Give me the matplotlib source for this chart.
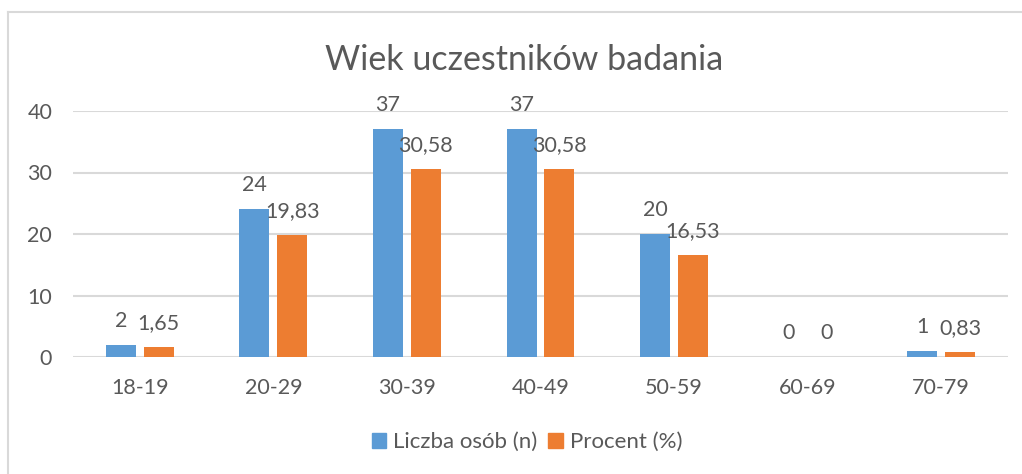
import matplotlib.pyplot as plt
from matplotlib.lines import Line2D
from matplotlib.patches import Patch
import numpy as np

plt.rcParams['font.family'] = ['Lato', 'DejaVu Sans']

categories = ['18-19', '20-29', '30-39', '40-49', '50-59', '60-69', '70-79']
liczba = [2, 24, 37, 37, 20, 0, 1]
procent = [1.65, 19.83, 30.58, 30.58, 16.53, 0, 0.83]
liczba_labels = ['2', '24', '37', '37', '20', '0', '1']
procent_labels = ['1,65', '19,83', '30,58', '30,58', '16,53', '0', '0,83']

blue = '#5B9BD5'
orange = '#ED7D31'
text_col = '#595959'
grid_col = '#D9D9D9'

fig = plt.figure(figsize=(10.22, 4.74), dpi=100)
ax = fig.add_axes([73 / 1022, 1 - 357 / 474, (1008 - 73) / 1022, (357 - 111) / 474])

x = np.arange(len(categories))
w = 0.2245
off = 0.142
ax.bar(x - off, liczba, w, color=blue, zorder=3)
ax.bar(x + off, procent, w, color=orange, zorder=3)

# data labels above bars
for xi, v, s in zip(x, liczba, liczba_labels):
    ax.annotate(s, (xi - off, v), xytext=(0, 13), textcoords='offset points',
                ha='center', va='baseline', fontsize=15.5, color=text_col)
for xi, v, s in zip(x, procent, procent_labels):
    ax.annotate(s, (xi + off, v), xytext=(0, 13), textcoords='offset points',
                ha='center', va='baseline', fontsize=15.5, color=text_col)

ax.set_xlim(-0.5, len(categories) - 0.5)
ax.set_ylim(0, 40)
ax.set_yticks([0, 10, 20, 30, 40])
ax.set_xticks(x)
ax.set_xticklabels(categories)
ax.tick_params(axis='both', length=0, labelsize=15.5, labelcolor=text_col)
ax.tick_params(axis='y', pad=15)
ax.tick_params(axis='x', pad=15)
ax.yaxis.grid(True, color=grid_col, linewidth=1.5, zorder=0)
for sp in ax.spines.values():
    sp.set_visible(False)
ax.set_facecolor('none')

fig.text(524 / 1022, 1 - 70 / 474, 'Wiek uczestników badania', ha='center',
         va='baseline', fontsize=24.5, color=text_col)

handles = [Patch(color=blue, label='Liczba osób (n)'),
           Patch(color=orange, label='Procent (%)')]
fig.legend(handles=handles, loc='center', bbox_to_anchor=(527 / 1022, 1 - 442 / 474),
           ncol=2, frameon=False, fontsize=16, labelcolor=text_col,
           handlelength=0.65, handleheight=0.65, handletextpad=0.3,
           columnspacing=0.5, borderpad=0)

# chart border (cropped Excel frame)
fig.add_artist(Line2D([8 / 1022, 1], [1 - 12 / 474, 1 - 12 / 474], color=grid_col, lw=1.5))
fig.add_artist(Line2D([8 / 1022, 8 / 1022], [0, 1 - 12 / 474], color=grid_col, lw=1.5))

fig.savefig('out.png', dpi=100)
